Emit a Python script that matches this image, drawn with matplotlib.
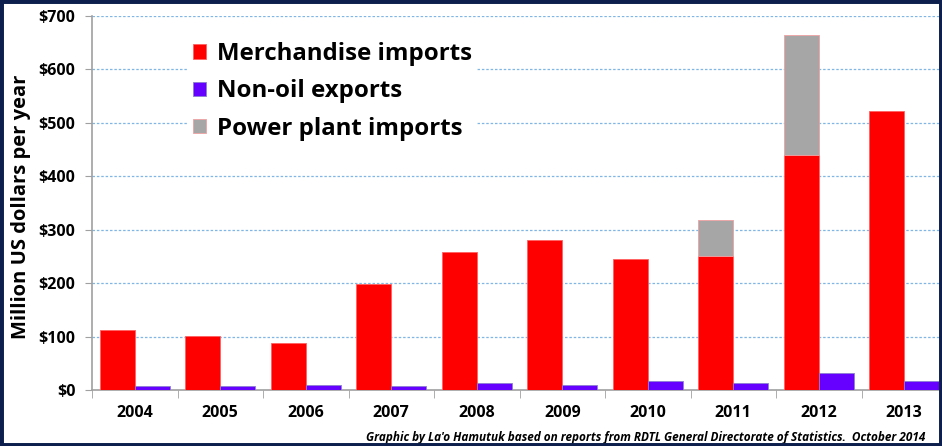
import matplotlib.pyplot as plt
import numpy as np
from matplotlib.patches import Rectangle

# Data (million US$)
years = ['2004', '2005', '2006', '2007', '2008', '2009', '2010', '2011', '2012', '2013']
merchandise = [113, 101, 88, 198, 258, 281, 245, 251, 440, 522]
power_plant = [0, 0, 0, 0, 0, 0, 0, 67, 225, 0]
non_oil = [7.5, 8, 9, 8, 14, 10, 17, 14, 32, 17]

plt.rcParams['font.family'] = ['Open Sans', 'DejaVu Sans']
plt.rcParams['font.weight'] = 'bold'

fig = plt.figure(figsize=(9.42, 4.46), dpi=100)
ax = fig.add_axes([92 / 942, 56 / 446, 855 / 942, 374 / 446])

x = np.arange(len(years))
w = 0.41

ax.bar(x - w / 2, merchandise, w, color='#ff0000', edgecolor='#ff6060', linewidth=0.6,
       label='Merchandise imports', zorder=3)
ax.bar(x + w / 2, non_oil, w, color='#6600ff', edgecolor='#8c7fd0', linewidth=0.6,
       label='Non-oil exports', zorder=3)
pp = [v if v > 0 else np.nan for v in power_plant]
ax.bar(x - w / 2, pp, w, bottom=merchandise, color='#a6a6a6', edgecolor='#f0a0a0',
       linewidth=0.6, label='Power plant imports', zorder=3)

ax.set_xlim(-0.5, len(years) - 0.5)
ax.set_ylim(0, 700)
ax.set_yticks(range(0, 701, 100))
ax.set_yticklabels(['$' + str(v) for v in range(0, 701, 100)], fontsize=11.5, fontweight='bold')
ax.set_xticks(x)
ax.set_xticklabels(years, fontsize=11.5, fontweight='bold')
ax.set_xticks(np.arange(-0.5, len(years)), minor=True)
ax.tick_params(axis='x', which='major', length=0, pad=11)
ax.tick_params(axis='x', which='minor', length=6, color='#a0a0a0', direction='out')
ax.tick_params(axis='y', length=5, color='#a0a0a0', pad=7, direction='out')

ax.yaxis.grid(True, color='#7fb6e6', linestyle=(0, (2, 1.5)), linewidth=0.9, zorder=0)
ax.set_axisbelow(True)
for s in ['top', 'right']:
    ax.spines[s].set_visible(False)
for s in ['left', 'bottom']:
    ax.spines[s].set_color('#a0a0a0')
    ax.spines[s].set_linewidth(1.2)

ax.set_ylabel('Million US dollars per year', fontsize=14.5, fontweight='bold')
ax.yaxis.set_label_coords(-0.071, 0.49)

leg = ax.legend(loc='upper left', bbox_to_anchor=(0.098, 0.975),
                prop={'family': 'Open Sans', 'weight': 'bold', 'size': 17.3}, frameon=True,
                handlelength=0.55, handleheight=0.55, handletextpad=0.45, labelspacing=0.55,
                borderpad=0.2)
leg.get_frame().set_edgecolor('white')
leg.get_frame().set_facecolor('white')
leg.get_frame().set_alpha(1)

fig.text(925 / 942, 9 / 446,
         "Graphic by La'o Hamutuk based on reports from RDTL General Directorate of Statistics.  October 2014",
         ha='right', va='center', fontsize=8.5, fontweight='bold', style='italic')

# navy frame
fig.patches.append(Rectangle((0, 0), 1, 1, transform=fig.transFigure, fill=False,
                             edgecolor='#0d1f4d', linewidth=5, zorder=10))

fig.savefig('out.png', dpi=100)
